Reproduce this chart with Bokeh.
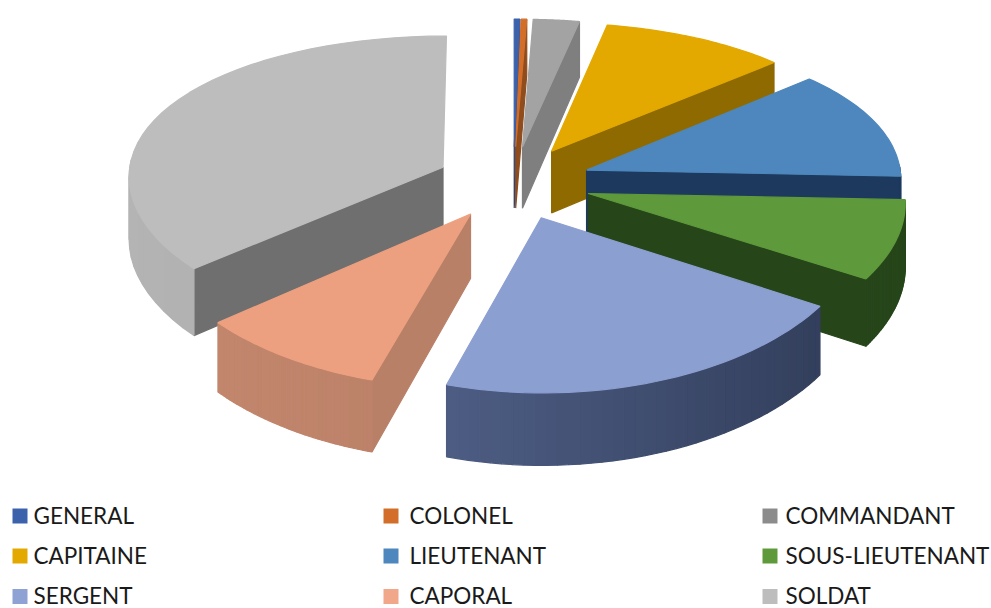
import numpy as np
from bokeh.plotting import figure
from bokeh.models import Range1d, ColumnDataSource
from bokeh.core.properties import value
from bokeh.embed import file_html
from bokeh.resources import INLINE

categories = ["GENERAL", "COLONEL", "COMMANDANT", "CAPITAINE", "LIEUTENANT",
              "SOUS-LIEUTENANT", "SERGENT", "CAPORAL", "SOLDAT"]
shares = [0.3, 0.3, 2.5, 10.2, 12.3, 8.3, 20.6, 9.1, 36.2]

top_colors = ["#3C62AC", "#D26E29", "#A3A3A3", "#E3A900", "#4D87BD", "#5E9A3B", "#8C9FD1", "#EDA07F", "#BDBDBD"]
legend_colors = ["#3C62AC", "#D26E29", "#8C8C8C", "#E3A900", "#4D87BD", "#5E9A3B", "#8FA2D4", "#F1A78A", "#BDBDBD"]
radial_colors = ["#2A4478", "#8F4D1D", "#7F7F7F", "#8F6A00", "#1D3A5E", "#26461A", "#3D4866", "#B98068", "#6F6F6F"]
arc_from = ["#2A4478", "#8F4D1D", "#7F7F7F", "#8F6A00", "#1D3A5E", "#26461A", "#2F3B57", "#B07860", "#A0A0A0"]
arc_to = ["#2A4478", "#8F4D1D", "#7F7F7F", "#8F6A00", "#1D3A5E", "#26461A", "#5E6F9C", "#C4886E", "#B4B4B4"]
draw_order = [8, 0, 1, 2, 3, 4, 5, 7, 6]

# projection of the 3D pie
CX, CY = 513.0, 182.0
RADIUS, EXPLODE, DEPTH = 315.0, 78.0, 63.0
PERSP, TILT, X_PERSP = 0.000338, 0.471, 0.5


def project(X, Y, z=0.0):
    X, Y = np.asarray(X, float), np.asarray(Y, float)
    w = 1 + PERSP * Y
    return CX + X / w ** X_PERSP, CY - TILT * Y / w + z / w


def lerp(c1, c2, t):
    a = [int(c1[i:i + 2], 16) for i in (1, 3, 5)]
    b = [int(c2[i:i + 2], 16) for i in (1, 3, 5)]
    return "#%02x%02x%02x" % tuple(int(round(u + (v - u) * t)) for u, v in zip(a, b))


bounds = np.concatenate([[0], np.cumsum(shares)]) / np.sum(shares) * 2 * np.pi
xs, ys, cols = [], [], []


def add(px, py, c):
    xs.append(list(map(float, px)))
    ys.append(list(map(float, py)))
    cols.append(c)


for i in draw_order:
    t0, t1 = bounds[i], bounds[i + 1]
    mid = (t0 + t1) / 2
    ex, ey = EXPLODE * np.sin(mid), EXPLODE * np.cos(mid)
    th = np.linspace(t0, t1, 40)
    X, Y = ex + RADIUS * np.sin(th), ey + RADIUS * np.cos(th)
    tx, ty = project(ex, ey)
    bx, by = project(ex, ey, DEPTH)
    ax, ay = project(X, Y)
    cx_, cy_ = project(X, Y, DEPTH)
    # radial faces that look towards the viewer
    if np.cos(t0 - np.pi / 2) < 0:
        add([tx, ax[0], cx_[0], bx], [ty, ay[0], cy_[0], by], radial_colors[i])
    if np.cos(t1 + np.pi / 2) < 0:
        add([tx, ax[-1], cx_[-1], bx], [ty, ay[-1], cy_[-1], by], radial_colors[i])
    # outer wall, strip by strip
    for k in range(len(th) - 1):
        tm = (th[k] + th[k + 1]) / 2
        if np.cos(tm) < 0.03:
            f = (np.sin(tm) * -0.5 + 0.5)
            add([ax[k], ax[k + 1], cx_[k + 1], cx_[k]], [ay[k], ay[k + 1], cy_[k + 1], cy_[k]],
                lerp(arc_from[i], arc_to[i], f))
    add(np.r_[tx, ax], np.r_[ty, ay], top_colors[i])

p = figure(width=991, height=608, output_backend="svg", toolbar_location=None,
           x_range=Range1d(0, 991), y_range=Range1d(608, 0), min_border=0,
           outline_line_color=None)
p.xaxis.visible = False
p.yaxis.visible = False
p.grid.visible = False
p.patches(xs, ys, fill_color=cols, line_color=cols, line_width=1.2)

col_marker = [19.5, 390.5, 769.5]
col_text = [33, 409, 785]
marker_y = [515.5, 555.5, 596]
text_y = [514.5, 555, 594.5]
lx, ly, tx_, ty_ = [], [], [], []
for n in range(len(categories)):
    r, c = n // 3, n % 3
    lx.append(col_marker[c])
    ly.append(marker_y[r])
    tx_.append(col_text[c])
    ty_.append(text_y[r])
p.scatter(lx, ly, marker="square", size=15, fill_color=legend_colors, line_color=None)
src = ColumnDataSource(dict(x=tx_, y=ty_, t=categories))
p.text("x", "y", text="t", source=src, text_font=value("Lato"), text_font_size=value("22.5px"),
       text_baseline="middle", text_align="left", text_color="#1a1a1a")

open("out.html", "w").write(file_html(p, INLINE))
